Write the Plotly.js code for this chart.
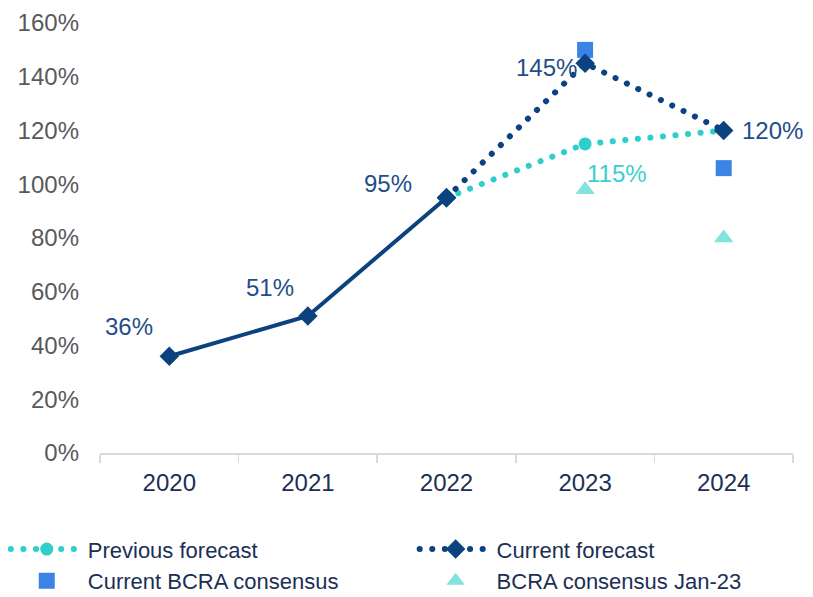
<!DOCTYPE html>
<html>
<head>
<meta charset="utf-8">
<script src="https://cdn.plot.ly/plotly-3.0.1.min.js"></script>
<style>
html,body{margin:0;padding:0;background:#fff;}
#chart{width:813px;height:597px;}
#chart path.js-line, #chart .legendlines path { stroke-linecap: round !important; }
</style>
</head>
<body>
<div id="chart"></div>
<script>
// ---- data ----
const years = ['2020', '2021', '2022', '2023', '2024'];
const actualYears = ['2020', '2021', '2022'];
const actualValues = [36, 51, 95];
const forecastYears = ['2022', '2023', '2024'];
const previousForecast = [95, 115, 120];
const currentForecast = [95, 145, 120];
const consensusYears = ['2023', '2024'];
const currentConsensus = [150, 106];
const consensusJan23 = [98, 80];
const yTicks = [0, 20, 40, 60, 80, 100, 120, 140, 160];

// data labels
const labelYears = ['2020', '2021', '2022', '2023', '2024', '2023'];
const labelValues = [36, 51, 95, 145, 120, 115];
const labelColors = ['#1f4e89', '#1f4e89', '#1f4e89', '#1f4e89', '#1f4e89', '#3ccfcb'];
const labelDx = [-40, -38, -59, -39, 49, 32];
const labelDy = [30, 28, 14, -4, 0, -30];

const navy = '#0b427f';
const teal = '#2ecfca';
const font = 'Liberation Sans, Arial, sans-serif';
const dotted = '0.1px,12.5px';

const traces = [
  {x: consensusYears, y: currentConsensus, type: 'scatter', mode: 'markers', name: 'Current BCRA consensus',
   marker: {symbol: 'square', size: 16, color: '#3b83e4'}, legend: 'legend', legendrank: 2},
  {x: consensusYears, y: consensusJan23, type: 'scatter', mode: 'markers', name: 'BCRA consensus Jan-23',
   marker: {symbol: 'triangle-up', size: 17, color: '#84e2df'}, legend: 'legend2', legendrank: 2},
  {x: forecastYears, y: previousForecast, type: 'scatter', mode: 'lines+markers', name: 'Previous forecast',
   line: {color: teal, width: 6, dash: dotted}, marker: {symbol: 'circle', size: 13, color: teal}, legend: 'legend', legendrank: 1},
  {x: forecastYears, y: currentForecast, type: 'scatter', mode: 'lines+markers', name: 'Current forecast',
   line: {color: navy, width: 6, dash: dotted}, marker: {symbol: 'diamond', size: 15, color: navy}, legend: 'legend2', legendrank: 1},
  {x: actualYears, y: actualValues, type: 'scatter', mode: 'lines+markers', name: 'Actual', showlegend: false,
   line: {color: navy, width: 4}, marker: {symbol: 'diamond', size: 15, color: navy}}
];

const annotations = labelValues.map((v, i) => ({
  x: years.indexOf(labelYears[i]), y: v, xref: 'x', yref: 'y', text: v + '%', showarrow: false,
  xshift: labelDx[i], yshift: labelDy[i],
  font: {family: font, size: 24, color: labelColors[i]}
}));

const legendCommon = {
  orientation: 'v', xanchor: 'left', yanchor: 'top', y: -0.175,
  itemwidth: 72, tracegroupgap: 0,
  font: {family: font, size: 22, color: '#1b2f55'},
  traceorder: 'normal', bgcolor: 'rgba(0,0,0,0)'
};

const layout = {
  width: 813, height: 597,
  margin: {l: 100, r: 20, t: 23, b: 144, autoexpand: false},
  paper_bgcolor: '#ffffff', plot_bgcolor: '#ffffff',
  showlegend: true,
  xaxis: {
    type: 'category', categoryorder: 'array', categoryarray: years,
    range: [-0.5, 4.5], showgrid: false, zeroline: false,
    showline: true, linecolor: '#d9d9d9', linewidth: 1.5,
    ticks: 'outside', tickson: 'boundaries', ticklen: 8, tickcolor: '#d9d9d9', tickwidth: 1.5,
    ticklabelstandoff: 8,
    tickfont: {family: font, size: 24, color: '#1b2f55'}
  },
  yaxis: {
    range: [0, 160], tickvals: yTicks, ticktext: yTicks.map(v => v + '%'),
    showgrid: false, zeroline: false, showline: false, ticks: '',
    ticklabelstandoff: 20,
    tickfont: {family: font, size: 24, color: '#595959'}
  },
  legend: Object.assign({}, legendCommon, {x: -0.136}),
  legend2: Object.assign({}, legendCommon, {x: 0.454}),
  annotations: annotations
};

Plotly.newPlot('chart', traces, layout, {displayModeBar: false, staticPlot: true});
</script>
</body>
</html>
